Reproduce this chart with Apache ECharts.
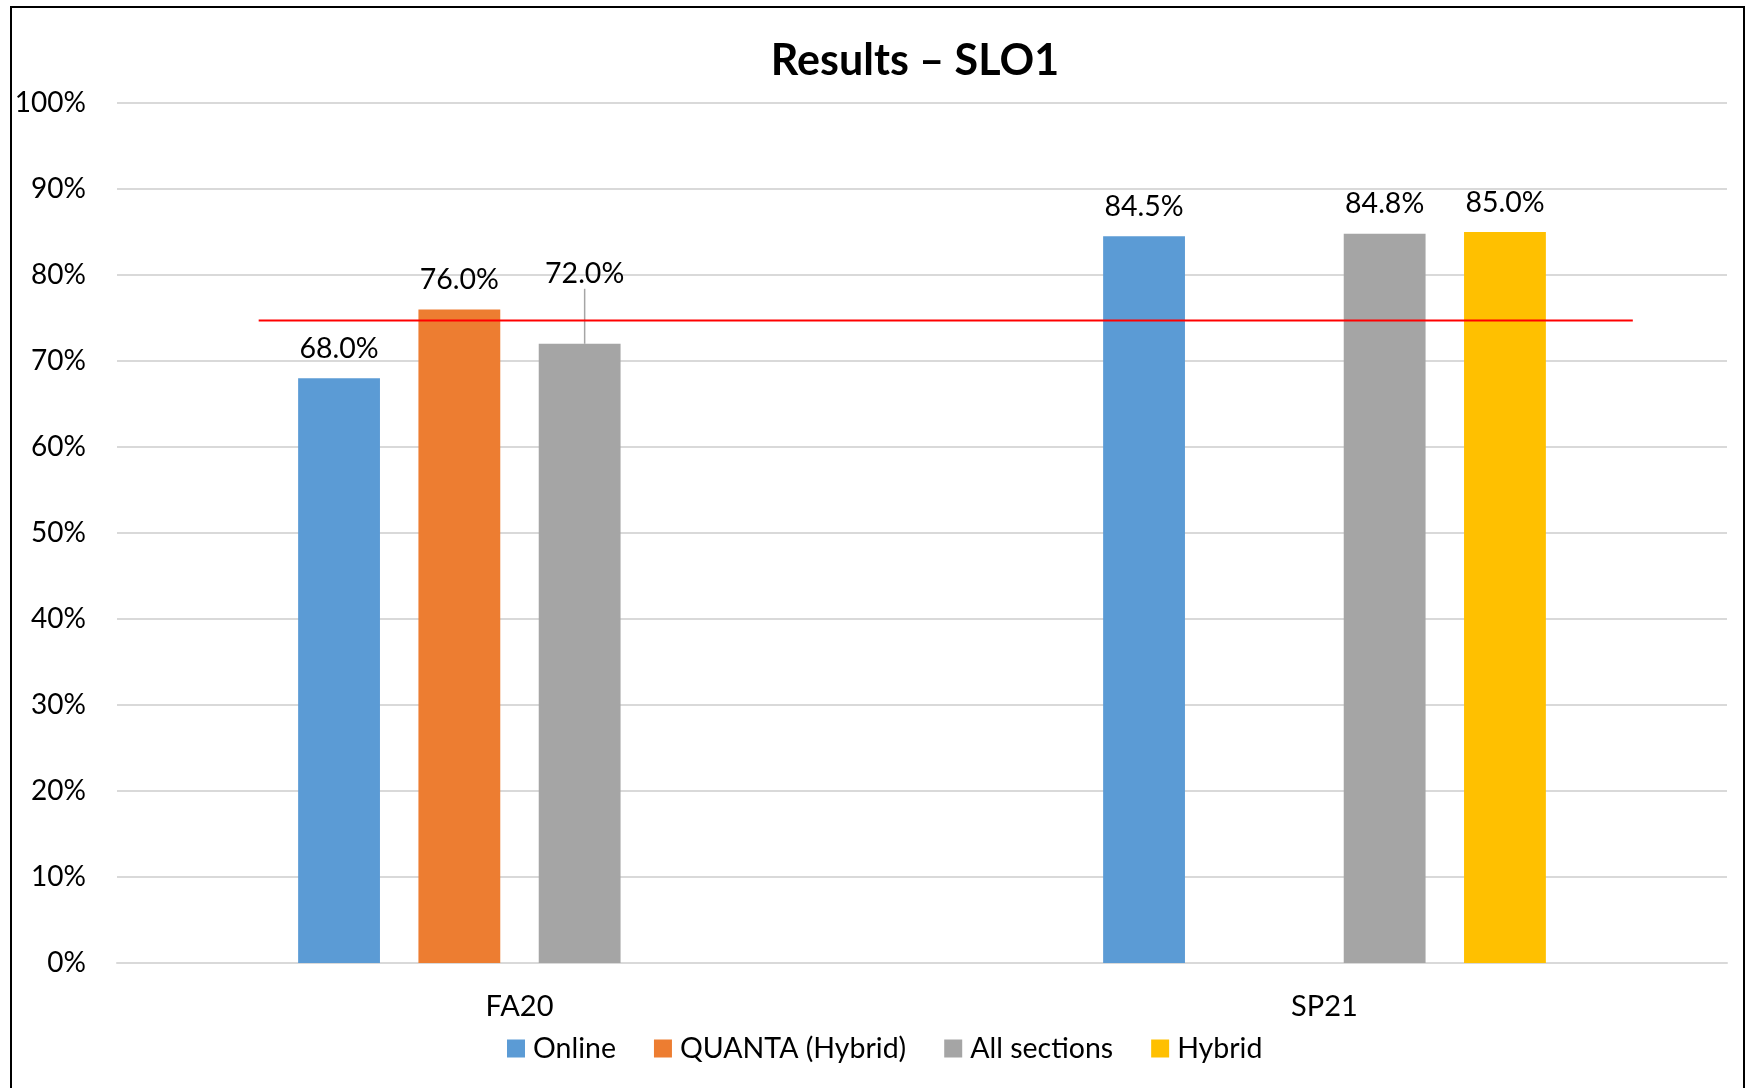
<!DOCTYPE html>
<html>
<head>
<meta charset="utf-8">
<script src="https://cdn.jsdelivr.net/npm/echarts@6/dist/echarts.min.js"></script>
<style>
html,body{margin:0;padding:0;background:#fff;}
#chart{width:1745px;height:1088px;}
</style>
</head>
<body>
<div id="chart"></div>
<script>
const categories = ['FA20', 'SP21'];
const seriesNames = ['Online', 'QUANTA (Hybrid)', 'All sections', 'Hybrid'];
const onlineValues = [68.0, 84.5];
const quantaValues = [76.0, null];
const allSectionsValues = [72.0, 84.8];
const hybridValues = [null, 85.0];
const yTicks = [0, 100, 10];
const targetValue = 74.7;
const targetSpan = [0.088, 0.9415]; // fraction of plot width covered by the target line

const colors = ['#5B9BD5', '#ED7D31', '#A5A5A5', '#FFC000'];
const FONT = 'Lato, "Open Sans", sans-serif';

const chart = echarts.init(document.getElementById('chart'), null, {renderer: 'canvas'});

function barSeries(name, values, color, extra, movedIndex) {
  return Object.assign({
    name: name,
    type: 'bar',
    data: values.map((v, i) => {
      if (v === null) return '-';
      if (i === movedIndex) return {value: v, labelLine: {show: true}};
      return v;
    }),
    itemStyle: {color: color},
    barGap: '47%',
    barCategoryGap: '45%',
    label: {
      show: true,
      position: 'top',
      distance: 15,
      color: '#000',
      fontFamily: FONT,
      fontSize: 28.5,
      formatter: p => Number(p.value).toFixed(1) + '%'
    }
  }, extra || {});
}

const option = {
  animation: false,
  backgroundColor: '#fff',
  title: {
    text: 'Results – SLO1',
    left: 910,
    textAlign: 'center',
    top: 35,
    textStyle: {fontFamily: FONT, fontWeight: 'bold', fontSize: 43, color: '#000'}
  },
  graphic: [{
    type: 'rect',
    shape: {x: 11, y: 7, width: 1733, height: 1100},
    style: {fill: 'none', stroke: '#000', lineWidth: 2},
    silent: true
  }],
  legend: {
    data: seriesNames,
    bottom: 20,
    left: 502,
    itemWidth: 18,
    itemHeight: 18,
    itemGap: 38,
    icon: 'rect',
    textStyle: {fontFamily: FONT, fontSize: 28.5, color: '#000', padding: [0, 0, 0, 3]}
  },
  grid: {left: 117, right: 18, top: 103, bottom: 125},
  xAxis: [{
    type: 'category',
    data: categories,
    axisTick: {show: false},
    axisLine: {lineStyle: {color: '#D9D9D9', width: 2}},
    axisLabel: {margin: 29, color: '#000', fontFamily: FONT, fontSize: 29}
  }, {
    type: 'value',
    min: 0,
    max: 1,
    show: false
  }],
  yAxis: {
    type: 'value',
    min: yTicks[0],
    max: yTicks[1],
    interval: yTicks[2],
    axisLine: {show: false},
    axisTick: {show: false},
    splitLine: {lineStyle: {color: '#D9D9D9', width: 2}},
    axisLabel: {margin: 31, color: '#000', fontFamily: FONT, fontSize: 28, formatter: '{value}%'}
  },
  series: [
    barSeries(seriesNames[0], onlineValues, colors[0]),
    barSeries(seriesNames[1], quantaValues, colors[1]),
    barSeries(seriesNames[2], allSectionsValues, colors[2], {
      labelLayout: function (p) { return p.dataIndex === 0 ? {dx: 5, dy: -40} : {}; },
      labelLine: {show: false, lineStyle: {color: '#A5A5A5', width: 1.5}}
    }, 0),
    barSeries(seriesNames[3], hybridValues, colors[3]),
    {
      name: 'Target',
      type: 'line',
      xAxisIndex: 1,
      data: [[targetSpan[0], targetValue], [targetSpan[1], targetValue]],
      symbol: 'none',
      lineStyle: {color: '#FF0000', width: 2},
      z: 5,
      silent: true
    }
  ]
};
chart.setOption(option);
</script>
</body>
</html>
